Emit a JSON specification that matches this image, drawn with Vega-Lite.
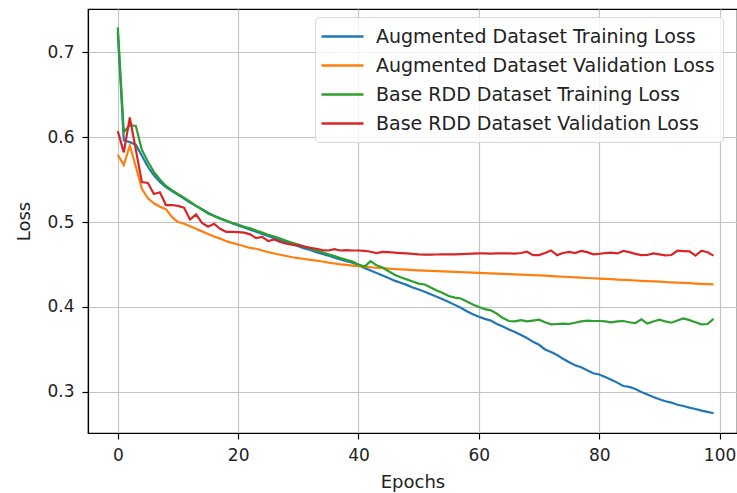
{
"$schema": "https://vega.github.io/schema/vega-lite/v6.json",
"width": 649, "height": 424,
"autosize": {"type": "none"},
"padding": {"left": 88, "top": 9, "right": 0, "bottom": 60},
"background": "white",
"config": {
 "view": {"stroke": "black", "strokeWidth": 1.2},
 "font": "DejaVu Sans",
 "axis": {"domainColor": "black", "domainWidth": 1.2, "tickColor": "black", "tickWidth": 1.2, "tickSize": 6, "gridColor": "#c4c4c4", "gridWidth": 1.2, "labelFont": "DejaVu Sans", "labelFontSize": 17, "labelColor": "#222", "labelPadding": 8, "titleFont": "DejaVu Sans", "titleFontSize": 18, "titleFontWeight": "normal", "titleColor": "#222"}
},
"data": {"values": [
{"e":0,"AT":0.724,"AV":0.579,"BT":0.729,"BV":0.607},
{"e":1,"AT":0.596,"AV":0.567,"BT":0.606,"BV":0.582},
{"e":2,"AT":0.594,"AV":0.590,"BT":0.614,"BV":0.623},
{"e":3,"AT":0.591,"AV":0.565,"BT":0.613,"BV":0.585},
{"e":4,"AT":0.578,"AV":0.539,"BT":0.585,"BV":0.547},
{"e":5,"AT":0.565,"AV":0.528,"BT":0.571,"BV":0.546},
{"e":6,"AT":0.555,"AV":0.522,"BT":0.559,"BV":0.533},
{"e":7,"AT":0.547,"AV":0.518,"BT":0.550,"BV":0.535},
{"e":8,"AT":0.541,"AV":0.515,"BT":0.5425,"BV":0.520},
{"e":9,"AT":0.5365,"AV":0.506,"BT":0.5375,"BV":0.520},
{"e":10,"AT":0.532,"AV":0.500,"BT":0.533,"BV":0.519},
{"e":11,"AT":0.5275,"AV":0.498,"BT":0.5285,"BV":0.517},
{"e":12,"AT":0.523,"AV":0.495,"BT":0.524,"BV":0.503},
{"e":13,"AT":0.519,"AV":0.492,"BT":0.519,"BV":0.509},
{"e":14,"AT":0.515,"AV":0.489,"BT":0.5147,"BV":0.499},
{"e":15,"AT":0.511,"AV":0.486,"BT":0.510,"BV":0.4945},
{"e":16,"AT":0.5075,"AV":0.483,"BT":0.507,"BV":0.498},
{"e":17,"AT":0.5045,"AV":0.4805,"BT":0.504,"BV":0.492},
{"e":18,"AT":0.5015,"AV":0.4775,"BT":0.5015,"BV":0.4885},
{"e":19,"AT":0.4985,"AV":0.4755,"BT":0.499,"BV":0.4885},
{"e":20,"AT":0.496,"AV":0.4735,"BT":0.497,"BV":0.488},
{"e":21,"AT":0.4935,"AV":0.4715,"BT":0.4945,"BV":0.4875},
{"e":22,"AT":0.491,"AV":0.4695,"BT":0.4925,"BV":0.4855},
{"e":23,"AT":0.4885,"AV":0.4685,"BT":0.490,"BV":0.481},
{"e":24,"AT":0.486,"AV":0.4665,"BT":0.4875,"BV":0.4825},
{"e":25,"AT":0.4835,"AV":0.4645,"BT":0.485,"BV":0.4775},
{"e":26,"AT":0.481,"AV":0.463,"BT":0.483,"BV":0.4795},
{"e":27,"AT":0.4785,"AV":0.4615,"BT":0.4805,"BV":0.4765},
{"e":28,"AT":0.476,"AV":0.460,"BT":0.478,"BV":0.4745},
{"e":29,"AT":0.4735,"AV":0.4585,"BT":0.4755,"BV":0.4735},
{"e":30,"AT":0.4715,"AV":0.4575,"BT":0.4735,"BV":0.4725},
{"e":31,"AT":0.469,"AV":0.4565,"BT":0.471,"BV":0.471},
{"e":32,"AT":0.467,"AV":0.4555,"BT":0.469,"BV":0.4695},
{"e":33,"AT":0.4645,"AV":0.4545,"BT":0.4665,"BV":0.4685},
{"e":34,"AT":0.4625,"AV":0.4535,"BT":0.4645,"BV":0.467},
{"e":35,"AT":0.4605,"AV":0.4522,"BT":0.462,"BV":0.4665},
{"e":36,"AT":0.458,"AV":0.4512,"BT":0.460,"BV":0.468},
{"e":37,"AT":0.456,"AV":0.4502,"BT":0.4575,"BV":0.4665},
{"e":38,"AT":0.454,"AV":0.4495,"BT":0.4555,"BV":0.467},
{"e":39,"AT":0.452,"AV":0.4487,"BT":0.4535,"BV":0.4665},
{"e":40,"AT":0.449,"AV":0.448,"BT":0.450,"BV":0.4665},
{"e":41,"AT":0.446,"AV":0.4474,"BT":0.4475,"BV":0.466},
{"e":42,"AT":0.443,"AV":0.4468,"BT":0.454,"BV":0.465},
{"e":43,"AT":0.440,"AV":0.4462,"BT":0.449,"BV":0.4635},
{"e":44,"AT":0.437,"AV":0.4457,"BT":0.4465,"BV":0.4648},
{"e":45,"AT":0.434,"AV":0.4452,"BT":0.442,"BV":0.4645},
{"e":46,"AT":0.431,"AV":0.4447,"BT":0.438,"BV":0.464},
{"e":47,"AT":0.4285,"AV":0.4443,"BT":0.435,"BV":0.4635},
{"e":48,"AT":0.426,"AV":0.4439,"BT":0.4325,"BV":0.463},
{"e":49,"AT":0.423,"AV":0.4435,"BT":0.430,"BV":0.4625},
{"e":50,"AT":0.4205,"AV":0.4432,"BT":0.4275,"BV":0.462},
{"e":51,"AT":0.418,"AV":0.4429,"BT":0.4265,"BV":0.4617},
{"e":52,"AT":0.415,"AV":0.4426,"BT":0.423,"BV":0.4617},
{"e":53,"AT":0.412,"AV":0.4423,"BT":0.4195,"BV":0.4618},
{"e":54,"AT":0.409,"AV":0.442,"BT":0.4165,"BV":0.462},
{"e":55,"AT":0.406,"AV":0.4417,"BT":0.413,"BV":0.462},
{"e":56,"AT":0.4025,"AV":0.4414,"BT":0.411,"BV":0.462},
{"e":57,"AT":0.399,"AV":0.4411,"BT":0.410,"BV":0.4622},
{"e":58,"AT":0.395,"AV":0.4408,"BT":0.4065,"BV":0.4625},
{"e":59,"AT":0.3915,"AV":0.4405,"BT":0.403,"BV":0.4628},
{"e":60,"AT":0.3885,"AV":0.4402,"BT":0.400,"BV":0.463},
{"e":61,"AT":0.386,"AV":0.4399,"BT":0.3975,"BV":0.463},
{"e":62,"AT":0.384,"AV":0.4396,"BT":0.396,"BV":0.4628},
{"e":63,"AT":0.380,"AV":0.4393,"BT":0.392,"BV":0.463},
{"e":64,"AT":0.377,"AV":0.439,"BT":0.387,"BV":0.4632},
{"e":65,"AT":0.3735,"AV":0.4387,"BT":0.3835,"BV":0.463},
{"e":66,"AT":0.3705,"AV":0.4384,"BT":0.383,"BV":0.4628},
{"e":67,"AT":0.367,"AV":0.4381,"BT":0.3845,"BV":0.4635},
{"e":68,"AT":0.3635,"AV":0.4378,"BT":0.383,"BV":0.465},
{"e":69,"AT":0.359,"AV":0.4375,"BT":0.384,"BV":0.461},
{"e":70,"AT":0.3555,"AV":0.4372,"BT":0.385,"BV":0.461},
{"e":71,"AT":0.350,"AV":0.4368,"BT":0.382,"BV":0.4635},
{"e":72,"AT":0.347,"AV":0.4364,"BT":0.3795,"BV":0.4665},
{"e":73,"AT":0.3435,"AV":0.436,"BT":0.380,"BV":0.461},
{"e":74,"AT":0.339,"AV":0.4356,"BT":0.3805,"BV":0.4635},
{"e":75,"AT":0.335,"AV":0.4353,"BT":0.380,"BV":0.4648},
{"e":76,"AT":0.3315,"AV":0.4349,"BT":0.3815,"BV":0.4635},
{"e":77,"AT":0.329,"AV":0.4345,"BT":0.383,"BV":0.466},
{"e":78,"AT":0.3255,"AV":0.4341,"BT":0.384,"BV":0.4645},
{"e":79,"AT":0.322,"AV":0.4338,"BT":0.3835,"BV":0.462},
{"e":80,"AT":0.3205,"AV":0.4334,"BT":0.3835,"BV":0.4625},
{"e":81,"AT":0.3175,"AV":0.433,"BT":0.383,"BV":0.4635},
{"e":82,"AT":0.3145,"AV":0.4327,"BT":0.382,"BV":0.464},
{"e":83,"AT":0.311,"AV":0.4323,"BT":0.383,"BV":0.463},
{"e":84,"AT":0.307,"AV":0.4319,"BT":0.3835,"BV":0.466},
{"e":85,"AT":0.306,"AV":0.4316,"BT":0.382,"BV":0.4645},
{"e":86,"AT":0.3035,"AV":0.4312,"BT":0.381,"BV":0.4625},
{"e":87,"AT":0.300,"AV":0.4308,"BT":0.3855,"BV":0.461},
{"e":88,"AT":0.297,"AV":0.4305,"BT":0.3805,"BV":0.4612},
{"e":89,"AT":0.294,"AV":0.4301,"BT":0.383,"BV":0.463},
{"e":90,"AT":0.2915,"AV":0.4298,"BT":0.385,"BV":0.462},
{"e":91,"AT":0.289,"AV":0.4294,"BT":0.383,"BV":0.4608},
{"e":92,"AT":0.2875,"AV":0.429,"BT":0.3815,"BV":0.4612},
{"e":93,"AT":0.285,"AV":0.4287,"BT":0.384,"BV":0.4662},
{"e":94,"AT":0.2835,"AV":0.4283,"BT":0.3865,"BV":0.4658},
{"e":95,"AT":0.2815,"AV":0.428,"BT":0.3845,"BV":0.4655},
{"e":96,"AT":0.280,"AV":0.4276,"BT":0.382,"BV":0.4605},
{"e":97,"AT":0.278,"AV":0.4272,"BT":0.3795,"BV":0.4662},
{"e":98,"AT":0.2765,"AV":0.4269,"BT":0.380,"BV":0.4645},
{"e":99,"AT":0.275,"AV":0.4265,"BT":0.386,"BV":0.4605}
]},
"transform": [{"fold": ["AT","AV","BT","BV"], "as": ["series","loss"]}],
"mark": {"type": "line", "strokeWidth": 2.2, "clip": true},
"encoding": {
 "x": {"field": "e", "type": "quantitative", "scale": {"domain": [-4.95, 102.9], "nice": false, "zero": false}, "axis": {"values": [0,20,40,60,80,100], "title": "Epochs", "labelFlush": false, "titlePadding": 10}},
 "y": {"field": "loss", "type": "quantitative", "scale": {"domain": [0.2517, 0.7507], "nice": false, "zero": false}, "axis": {"values": [0.3,0.4,0.5,0.6,0.7], "format": ".1f", "title": "Loss", "labelFlush": false, "titlePadding": 13}},
 "color": {"field": "series", "type": "nominal", "scale": {"domain": ["AT","AV","BT","BV"], "range": ["#1f77b4","#ff7f0e","#2ca02c","#d62728"]},
  "legend": {"title": null, "orient": "none", "legendX": 227, "legendY": 8, "labelExpr": "{'AT':'Augmented Dataset Training Loss','AV':'Augmented Dataset Validation Loss','BT':'Base RDD Dataset Training Loss','BV':'Base RDD Dataset Validation Loss'}[datum.label]", "symbolType": "M-1.3,0H2.9", "symbolSize": 400, "symbolStrokeWidth": 2.5, "labelFont": "DejaVu Sans", "labelFontSize": 19, "labelColor": "#222", "labelLimit": 0, "labelOffset": 30, "rowPadding": 7, "padding": 8, "fillColor": "rgba(255,255,255,0.8)", "strokeColor": "#d6d6d6", "cornerRadius": 4}}
}
}
